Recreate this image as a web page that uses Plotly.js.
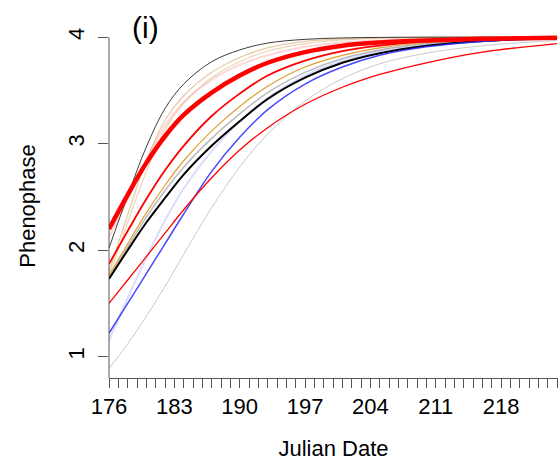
<!DOCTYPE html>
<html>
<head>
<meta charset="utf-8">
<script src="https://cdn.plot.ly/plotly-3.0.1.min.js"></script>
<style>html,body{margin:0;padding:0;background:#fff;}#chart{width:558px;height:464px;}</style>
</head>
<body>
<div id="chart"></div>
<script>
// Julian dates at which each curve was read
const days = [176, 178, 180, 182, 184, 187, 190, 193, 197, 201, 205, 210, 216, 224];

// Phenophase curves
const topDark   = [2.02, 2.51, 2.97, 3.33, 3.56, 3.77, 3.88, 3.945, 3.98, 3.993, 3.998, 4.0, 4.0, 4.0];
const tan1      = [1.80, 2.33, 2.84, 3.22, 3.45, 3.67, 3.81, 3.90, 3.96, 3.985, 3.995, 4.0, 4.0, 4.0];
const tan2      = [1.76, 2.26, 2.74, 3.13, 3.38, 3.62, 3.77, 3.87, 3.94, 3.975, 3.99, 3.997, 4.0, 4.0];
const pink      = [2.12, 2.48, 2.85, 3.17, 3.39, 3.60, 3.74, 3.83, 3.91, 3.95, 3.97, 3.985, 3.995, 4.0];
const redThick  = [2.20, 2.52, 2.82, 3.07, 3.27, 3.48, 3.64, 3.76, 3.86, 3.92, 3.95, 3.97, 3.985, 3.995];
const red2      = [1.87, 2.18, 2.48, 2.75, 2.98, 3.26, 3.47, 3.64, 3.78, 3.87, 3.92, 3.96, 3.98, 3.995];
const orange    = [1.76, 2.06, 2.35, 2.61, 2.84, 3.12, 3.35, 3.54, 3.72, 3.83, 3.90, 3.95, 3.98, 3.99];
const greyMid   = [1.74, 2.03, 2.31, 2.56, 2.78, 3.05, 3.28, 3.48, 3.67, 3.80, 3.88, 3.94, 3.975, 3.99];
const black     = [1.73, 2.00, 2.26, 2.49, 2.71, 2.98, 3.21, 3.42, 3.62, 3.76, 3.85, 3.92, 3.965, 3.99];
const lightBlue = [1.15, 1.55, 1.93, 2.28, 2.58, 2.93, 3.21, 3.43, 3.64, 3.78, 3.87, 3.93, 3.97, 3.99];
const blue      = [1.22, 1.50, 1.78, 2.06, 2.34, 2.74, 3.06, 3.32, 3.56, 3.72, 3.83, 3.91, 3.96, 3.99];
const redLow    = [1.50, 1.72, 1.94, 2.16, 2.38, 2.68, 2.94, 3.15, 3.37, 3.53, 3.65, 3.76, 3.86, 3.94];
const greyLight = [0.89, 1.12, 1.38, 1.66, 1.96, 2.40, 2.78, 3.09, 3.40, 3.61, 3.75, 3.85, 3.92, 3.97];

const xTickVals = [176, 183, 190, 197, 204, 211, 218];
const yTickVals = [1, 2, 3, 4];

const series = [
  {y: greyLight, color: 'rgba(195,195,195,0.9)', width: 1},
  {y: lightBlue, color: 'rgba(90,90,255,0.22)', width: 2},
  {y: pink,      color: 'rgba(255,0,0,0.16)', width: 2},
  {y: tan2,      color: 'rgba(222,184,135,0.6)', width: 1.2},
  {y: tan1,      color: 'rgba(222,184,135,0.75)', width: 1.2},
  {y: greyMid,   color: 'rgba(120,120,120,0.5)', width: 1.5},
  {y: orange,    color: '#E0A030', width: 1.2},
  {y: black,     color: '#000000', width: 2},
  {y: blue,      color: 'rgba(40,40,255,0.85)', width: 1.5},
  {y: redLow,    color: '#FF0000', width: 1.3},
  {y: red2,      color: '#FF0000', width: 1.8},
  {y: topDark,   color: 'rgba(40,40,40,0.9)', width: 1},
  {y: redThick,  color: '#FF0000', width: 4.5}
];

const traces = series.map(s => ({
  x: days, y: s.y, type: 'scatter', mode: 'lines',
  line: {color: s.color, width: s.width, shape: 'spline', smoothing: 1},
  hoverinfo: 'skip', showlegend: false
}));

const font = {family: 'Liberation Sans, Arial, sans-serif', size: 22, color: '#000'};

const layout = {
  width: 558, height: 464,
  margin: {l: 109, r: 0, t: 34, b: 86, pad: 0},
  paper_bgcolor: '#fff', plot_bgcolor: '#fff',
  font: font,
  showlegend: false,
  xaxis: {
    range: [176, 224.1], tickvals: xTickVals, ticktext: xTickVals.map(String),
    ticks: 'outside', ticklen: 9, tickwidth: 1, tickcolor: '#555',
    minor: {dtick: 1, tick0: 176, ticks: 'outside', ticklen: 9, tickwidth: 1, tickcolor: '#555', showgrid: false},
    showline: true, linecolor: '#555', linewidth: 1,
    showgrid: false, zeroline: false,
    tickfont: font,
    title: {text: 'Julian Date', font: font, standoff: 22}
  },
  yaxis: {
    range: [0.8, 4.03], tickvals: yTickVals, ticktext: yTickVals.map(String),
    ticks: 'outside', ticklen: 10, tickwidth: 1, tickcolor: '#555', tickangle: -90,
    ticklabelstandoff: 5,
    showline: false, showgrid: false, zeroline: false,
    tickfont: font,
    title: {text: 'Phenophase', font: font, standoff: 22}
  },
  shapes: [
    {type: 'line', xref: 'paper', yref: 'y', x0: 0, x1: 0, y0: 0.8, y1: 4, line: {color: '#555', width: 1}}
  ],
  annotations: [
    {text: '(i)', xref: 'x', yref: 'paper', x: 179.96, y: 1.02, showarrow: false,
     xanchor: 'center', yanchor: 'middle', font: {family: 'Liberation Sans, Arial, sans-serif', size: 30, color: '#000'}}
  ]
};

Plotly.newPlot('chart', traces, layout, {staticPlot: true, displayModeBar: false});
</script>
</body>
</html>
